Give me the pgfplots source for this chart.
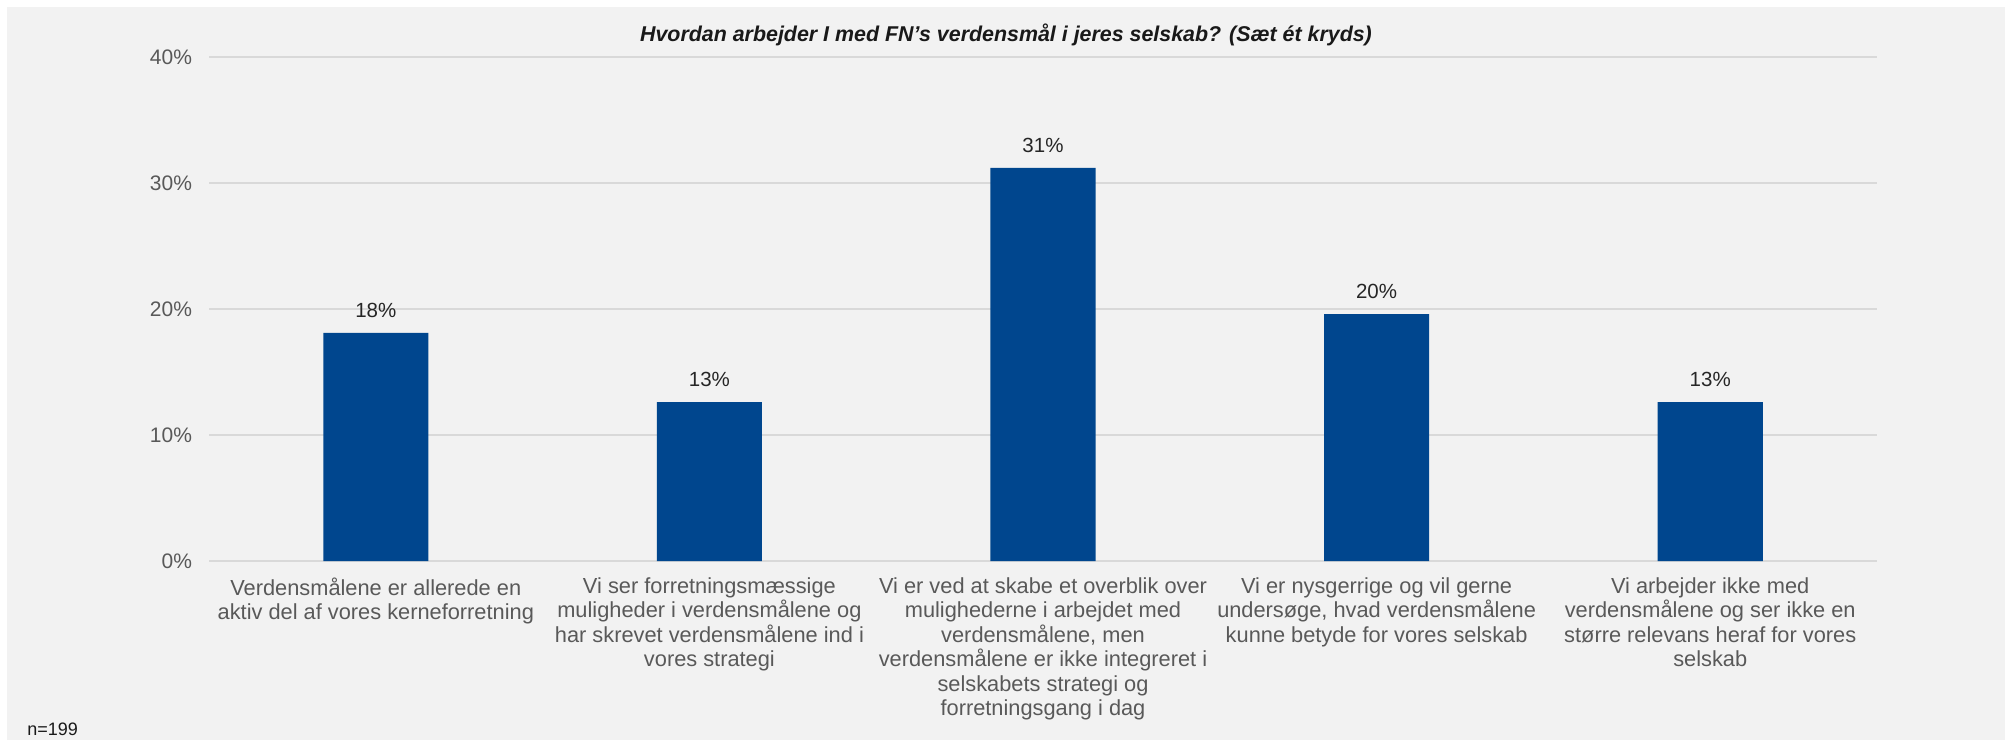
\documentclass[border=0pt]{standalone}
\usepackage{fontspec}
\setmainfont{Liberation Sans}
\usepackage{pgfplots}
\pgfplotsset{compat=1.18}

\definecolor{bgray}{HTML}{F2F2F2}
\definecolor{gridgray}{HTML}{D9D9D9}
\definecolor{labgray}{HTML}{595959}
\definecolor{barblue}{HTML}{00468E}

% share of respondents (n=199), in percent
\pgfplotstableread{
x  y
0  18.1
1  12.6
2  31.2
3  19.6
4  12.6
}\sdgdata

\begin{document}
\begin{tikzpicture}
\fill[white] (0pt,0pt) rectangle (1003.5pt,370pt);
\fill[bgray] (3.5pt,0pt) rectangle (1002.5pt,366.5pt);
\begin{axis}[
    at={(104.5pt,89.5pt)},
    anchor=south west,
    scale only axis,
    width=834pt,
    height=252pt,
    ybar,
    bar width=0.315,
    xmin=-0.5, xmax=4.5,
    ymin=0, ymax=40,
    ytick={0,10,20,30,40},
    yticklabel={\pgfmathprintnumber{\tick}\%},
    xtick=data,
    xticklabels={
        {Verdensmålene er allerede en\\aktiv del af vores kerneforretning},
        {Vi ser forretningsmæssige\\muligheder i verdensmålene og\\har skrevet verdensmålene ind i\\vores strategi},
        {Vi er ved at skabe et overblik over\\mulighederne i arbejdet med\\verdensmålene, men\\verdensmålene er ikke integreret i\\selskabets strategi og\\forretningsgang i dag},
        {Vi er nysgerrige og vil gerne\\undersøge, hvad verdensmålene\\kunne betyde for vores selskab},
        {Vi arbejder ikke med\\verdensmålene og ser ikke en\\større relevans heraf for vores\\selskab}
    },
    /pgf/number format/assume math mode=true,
    xticklabel style={align=center, font=\fontsize{10.9}{12.2}\selectfont,
        text=labgray, yshift=-0.5pt},
    yticklabel style={font=\fontsize{10.5}{12.5}\selectfont, text=labgray,
        xshift=-5pt},
    ymajorgrids,
    grid style={gridgray, line width=0.9pt},
    axis line style={draw=none},
    major tick style={draw=none},
    nodes near coords={\pgfmathprintnumber[fixed,precision=0]{\pgfplotspointmeta}\%},
    every node near coord/.append style={font=\fontsize{10.25}{12}\selectfont,
        text=black!85, yshift=4pt},
    clip=false,
]
\addplot[fill=barblue, draw=none] table[x=x, y=y] {\sdgdata};
\end{axis}
\node[font=\fontsize{10.7}{12}\bfseries\itshape\selectfont, text=black!90]
    at (503pt,352.7pt) {Hvordan arbejder I med FN’s verdensmål i jeres selskab? (Sæt ét kryds)};
\node[anchor=base west, inner sep=0pt, font=\fontsize{9}{10}\selectfont, text=black!90]
    at (13.5pt,2.5pt) {n=199};
\pgfresetboundingbox
\useasboundingbox (0pt,0pt) rectangle (1003.5pt,370pt);
\end{tikzpicture}
\end{document}
